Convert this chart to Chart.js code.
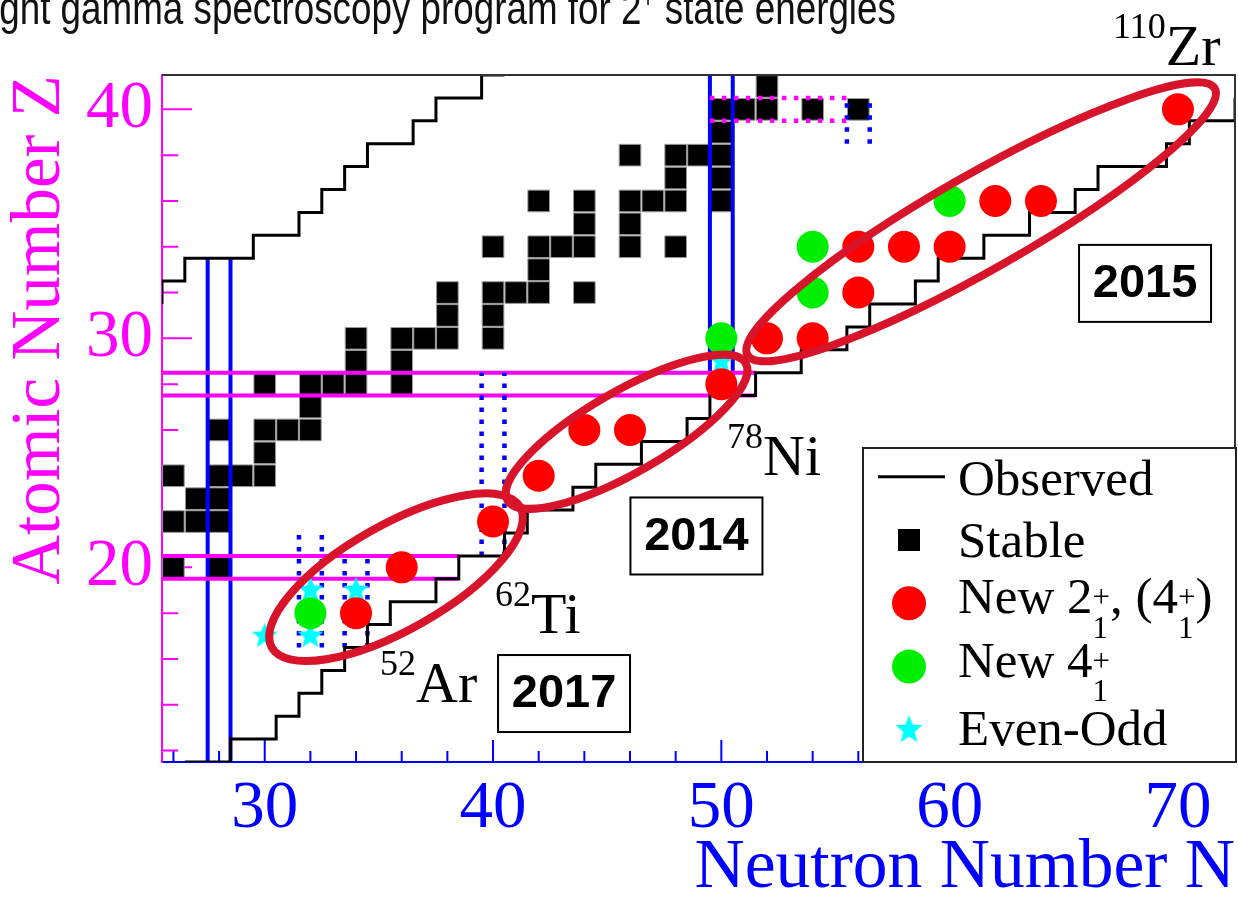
<!DOCTYPE html>
<html>
<head>
<meta charset="utf-8">
<title>Atomic Number Z vs Neutron Number N</title>
<script src="https://cdn.jsdelivr.net/npm/chart.js@4.4.1/dist/chart.umd.min.js"></script>
<style>
  body { margin: 0; background: #fff; overflow: hidden; }
  .chart-box { position: relative; width: 1238px; height: 906px; }
</style>
</head>
<body>
<div class="chart-box"><canvas id="chart" width="1238" height="906"></canvas></div>
<script>
const xRange = [25.5, 72.5]
const yRange = [11.5, 41.5]
const xTickLabels = [30, 40, 50, 60, 70]
const yTickLabels = [20, 30, 40]

// stable nuclei: one row of N values per Z
const stableZ = [20, 22, 23, 24, 25, 26, 27, 28, 29, 30, 31, 32, 33, 34, 35, 36, 37, 38, 39, 40, 41]
const stableN = [
  [26, 28],
  [26, 27, 28],
  [27, 28],
  [26, 28, 29, 30],
  [30],
  [28, 30, 31, 32],
  [32],
  [30, 32, 33, 34, 36],
  [34, 36],
  [34, 36, 37, 38, 40],
  [38, 40],
  [38, 40, 41, 42, 44],
  [42],
  [40, 42, 43, 44, 46, 48],
  [44, 46],
  [42, 44, 46, 47, 48, 50],
  [48, 50],
  [46, 48, 49, 50],
  [50],
  [50, 51, 52, 54, 56],
  [52]
]

// new 2+ (4+) energies
const new2N = [34, 36, 40, 42, 44, 46, 50, 52, 54, 56, 56, 58, 60, 62, 64, 70]
const new2Z = [18, 20, 22, 24, 26, 26, 28, 30, 30, 32, 34, 34, 34, 36, 36, 40]

// new 4+ energies
const new4N = [32, 50, 54, 54, 60]
const new4Z = [18, 30, 32, 34, 36]

// even-odd
const evenOddN = [30, 32, 32, 34, 50]
const evenOddZ = [17, 17, 19, 19, 29]

// limits of observed nuclei, corner points [N, Z]
const observedUpper = [
  [25.5, 31.5], [25.5, 32.5], [26.5, 32.5], [26.5, 33.5], [29.5, 33.5], [29.5, 34.5],
  [31.5, 34.5], [31.5, 35.5], [32.5, 35.5], [32.5, 36.5], [33.5, 36.5], [33.5, 37.5],
  [34.5, 37.5], [34.5, 38.5], [36.5, 38.5], [36.5, 39.5], [37.5, 39.5], [37.5, 40.5],
  [39.5, 40.5], [39.5, 41.5], [40.5, 41.5]
]
const observedLower = [
  [26.5, 11.5], [28.5, 11.5], [28.5, 12.5], [30.5, 12.5], [30.5, 13.5], [31.5, 13.5],
  [31.5, 14.5], [32.5, 14.5], [32.5, 15.5], [33.5, 15.5], [33.5, 16.5], [34.5, 16.5],
  [34.5, 17.5], [35.5, 17.5], [35.5, 18.5], [37.5, 18.5], [37.5, 19.5], [38.5, 19.5],
  [38.5, 20.5], [40.5, 20.5], [40.5, 21.5], [41.5, 21.5], [41.5, 22.5], [43.5, 22.5],
  [43.5, 23.5], [44.5, 23.5], [44.5, 24.5], [46.5, 24.5], [46.5, 25.5], [48.5, 25.5],
  [48.5, 26.5], [49.5, 26.5], [49.5, 27.5], [51.5, 27.5], [51.5, 28.5], [53.5, 28.5],
  [53.5, 29.5], [55.5, 29.5], [55.5, 30.5], [56.5, 30.5], [56.5, 31.5], [58.5, 31.5],
  [58.5, 32.5], [59.5, 32.5], [59.5, 33.5], [61.5, 33.5], [61.5, 34.5], [63.5, 34.5],
  [63.5, 35.5], [65.5, 35.5], [65.5, 36.5], [66.5, 36.5], [66.5, 37.5], [69.5, 37.5],
  [69.5, 38.5], [70.5, 38.5], [70.5, 39.5], [72.5, 39.5], [72.5, 40.5], [73, 40.5]
]

// magic number boxes: vertical [N, Zfrom, Zto], horizontal [Z, Nfrom, Nto]
const magicNSolid = [[27.5, 11.5, 33.5], [28.5, 11.5, 33.5], [49.5, 27.5, 41.5], [50.5, 27.5, 41.5]]
const magicZSolid = [[19.5, 25.5, 38.5], [20.5, 25.5, 38.5], [27.5, 25.5, 51.5], [28.5, 25.5, 51.5]]
const magicNDotted = [
  [31.5, 16.5, 21.5], [32.5, 16.5, 21.5], [33.5, 16.5, 20.5], [34.5, 16.5, 20.5],
  [39.5, 20.5, 28.5], [40.5, 20.5, 28.5], [55.5, 38.5, 40.5], [56.5, 38.5, 40.5]
]
const magicZDotted = [[39.5, 49.5, 55.5], [40.5, 49.5, 55.5]]

// campaign ellipses (centre N, Z; half axes in N units; tilt in degrees)
const campaigns = [
  { n: 35.75, z: 19.57, a: 6.25, b: 2.3, tilt: 29.5 },
  { n: 45.85, z: 25.92, a: 6.02, b: 1.78, tilt: 29.9 },
  { n: 61.38, z: 35.09, a: 11.78, b: 2.08, tilt: 29.7 }
]
const yearBoxes = [
  { text: '2015', n: 68.56, z: 32.4 },
  { text: '2014', n: 48.91, z: 21.37 },
  { text: '2017', n: 43.11, z: 14.49 }
]
const nuclideLabels = [
  { mass: '110', el: 'Zr', n: 67.16, z: 41.94 },
  { mass: '78', el: 'Ni', n: 50.25, z: 24.03 },
  { mass: '62', el: 'Ti', n: 40.09, z: 17.13 },
  { mass: '52', el: 'Ar', n: 35.05, z: 14.12 }
]

const SERIF = '"Liberation Serif", "Times New Roman", serif'
const SANS = '"Liberation Sans", Arial, sans-serif'
const RED = '#ff0000'
const GREEN = '#00ee00'
const CYAN = '#00ffff'
const ELLIPSE = '#d8142a'

const toPoints = (ns, zs) => ns.map((n, i) => ({ x: n, y: zs[i] }))

const makeStar = (size, color) => {
  const c = document.createElement('canvas')
  c.width = c.height = size
  const g = c.getContext('2d')
  g.fillStyle = color
  g.beginPath()
  for (let i = 0; i < 10; i++) {
    const r = i % 2 ? size * 0.22 : size * 0.5
    const ang = -Math.PI / 2 + i * Math.PI / 5
    g.lineTo(size / 2 + r * Math.cos(ang), size / 2 + r * Math.sin(ang))
  }
  g.closePath()
  g.fill()
  return c
}
const star = makeStar(27, CYAN)

const lineSet = (points, color, width, dash) => ({
  data: points.map(p => ({ x: p[0], y: p[1] })),
  showLine: true,
  borderColor: color,
  borderWidth: width,
  borderDash: dash || [],
  borderCapStyle: 'butt',
  pointRadius: 0,
  fill: false,
  tension: 0
})

const stablePoints = []
stableZ.forEach((z, i) => stableN[i].forEach(n => stablePoints.push({ x: n, y: z })))

const DOTS = [4.5, 7.5]
const datasets = [
  { label: 'New 2+', data: toPoints(new2N, new2Z), pointStyle: 'circle', pointRadius: 16, backgroundColor: RED, borderColor: RED, borderWidth: 0 },
  { label: 'New 4+', data: toPoints(new4N, new4Z), pointStyle: 'circle', pointRadius: 16, backgroundColor: GREEN, borderColor: GREEN, borderWidth: 0 },
  { label: 'Even-Odd', data: toPoints(evenOddN, evenOddZ), pointStyle: star, pointRadius: 13 },
  lineSet(observedUpper, '#000', 3),
  lineSet(observedLower, '#000', 3),
  ...magicZDotted.map(l => lineSet([[l[1], l[0]], [l[2], l[0]]], '#ff00ff', 4.5, DOTS)),
  ...magicNDotted.map(l => lineSet([[l[0], l[1]], [l[0], l[2]]], '#0000ff', 4.5, DOTS)),
  ...magicZSolid.map(l => lineSet([[l[1], l[0]], [l[2], l[0]]], '#ff00ff', 4)),
  ...magicNSolid.map(l => lineSet([[l[0], l[1]], [l[0], l[2]]], '#0000ff', 4)),
  { label: 'Stable', data: stablePoints, pointStyle: 'rect', pointRadius: 15.3, backgroundColor: '#000', borderColor: '#999', borderWidth: 1 }
]

// text with ROOT-like stacked ^sup/_sub blocks
const drawScript = (ctx, parts, x, y, size, family) => {
  const small = Math.round(size * 0.6)
  for (const p of parts) {
    if (typeof p === 'string') {
      ctx.font = `${size}px ${family}`
      ctx.fillText(p, x, y)
      x += ctx.measureText(p).width
    } else {
      ctx.font = `${small}px ${family}`
      let adv = 0
      if (p.sup) {
        ctx.fillText(p.sup, x, y - size * (p.sub ? 0.12 : 0.36))
        adv = ctx.measureText(p.sup).width
      }
      if (p.sub) {
        ctx.fillText(p.sub, x, y + size * 0.48)
        adv = Math.max(adv, ctx.measureText(p.sub).width)
      }
      x += adv
    }
  }
  return x
}

const frameTicks = {
  id: 'frameTicks',
  beforeDatasetsDraw(chart) {
    const { ctx, chartArea: a, scales: { x, y } } = chart
    ctx.save()
    ctx.lineWidth = 2
    ctx.strokeStyle = '#0000ff'
    ctx.beginPath()
    for (let n = 26; n <= 72; n += 2) {
      const p = x.getPixelForValue(n)
      ctx.moveTo(p, a.bottom)
      ctx.lineTo(p, a.bottom - (n % 10 === 0 ? 22 : 11))
    }
    ctx.stroke()
    ctx.strokeStyle = '#ff00ff'
    ctx.beginPath()
    for (let z = 12; z <= 40; z += 2) {
      const p = y.getPixelForValue(z)
      ctx.moveTo(a.left, p)
      ctx.lineTo(a.left + (z % 10 === 0 ? 30 : 16), p)
    }
    ctx.stroke()
    ctx.restore()
  },
  afterDatasetsDraw(chart) {
    const { ctx, chartArea: a } = chart
    ctx.save()
    ctx.strokeStyle = '#333'
    ctx.lineWidth = 2
    ctx.beginPath()
    ctx.moveTo(a.left, a.top)
    ctx.lineTo(a.right, a.top)
    ctx.lineTo(a.right, a.bottom)
    ctx.stroke()
    ctx.restore()
  }
}

const annotations = {
  id: 'annotations',
  afterDatasetsDraw(chart) {
    const { ctx, scales: { x, y } } = chart
    const ppu = x.width / (x.max - x.min)
    ctx.save()
    ctx.strokeStyle = ELLIPSE
    ctx.lineWidth = 8
    campaigns.forEach(e => {
      ctx.beginPath()
      ctx.ellipse(x.getPixelForValue(e.n), y.getPixelForValue(e.z), e.a * ppu, e.b * ppu, -e.tilt * Math.PI / 180, 0, Math.PI * 2)
      ctx.stroke()
    })

    ctx.fillStyle = '#000'
    ctx.textBaseline = 'alphabetic'
    nuclideLabels.forEach(l => {
      const px = x.getPixelForValue(l.n)
      const py = y.getPixelForValue(l.z)
      ctx.font = `36px ${SERIF}`
      ctx.fillText(l.mass, px, py - 27)
      const w = ctx.measureText(l.mass).width
      ctx.font = `58px ${SERIF}`
      ctx.fillText(l.el, px + w, py)
    })

    yearBoxes.forEach(b => {
      const cx = x.getPixelForValue(b.n)
      const cy = y.getPixelForValue(b.z)
      const bw = 132, bh = 77
      ctx.fillStyle = '#fff'
      ctx.fillRect(cx - bw / 2, cy - bh / 2, bw, bh)
      ctx.strokeStyle = '#000'
      ctx.lineWidth = 2
      ctx.strokeRect(cx - bw / 2, cy - bh / 2, bw, bh)
      ctx.fillStyle = '#000'
      ctx.font = `bold 47px ${SANS}`
      ctx.textAlign = 'center'
      ctx.textBaseline = 'middle'
      ctx.fillText(b.text, cx, cy + 1)
      ctx.textAlign = 'left'
      ctx.textBaseline = 'alphabetic'
    })
    ctx.restore()
  }
}

const rootLegend = {
  id: 'rootLegend',
  afterDraw(chart) {
    const { ctx, chartArea: a } = chart
    const w = 373, h = 314
    const left = a.right + 1 - w
    const top = a.bottom - h
    ctx.save()
    ctx.fillStyle = '#fff'
    ctx.fillRect(left, top, w, h)
    ctx.strokeStyle = '#222'
    ctx.lineWidth = 2
    ctx.strokeRect(left, top, w, h)

    const mx = left + 46
    const tx = left + 95
    const rowY = i => top + 28.7 + i * 63.3
    const baseY = [46.5, 108.7, 165.3, 228.7, 297]

    ctx.strokeStyle = '#000'
    ctx.lineWidth = 3
    ctx.beginPath()
    ctx.moveTo(left + 15, rowY(0))
    ctx.lineTo(left + 82, rowY(0))
    ctx.stroke()

    ctx.fillStyle = '#000'
    ctx.fillRect(mx - 11, rowY(1) - 11, 22, 22)

    ctx.fillStyle = RED
    ctx.beginPath()
    ctx.arc(mx, rowY(2), 17, 0, Math.PI * 2)
    ctx.fill()

    ctx.fillStyle = GREEN
    ctx.beginPath()
    ctx.arc(mx, rowY(3), 17, 0, Math.PI * 2)
    ctx.fill()

    ctx.drawImage(star, mx - 14, rowY(4) - 15, 28, 30)

    ctx.fillStyle = '#000'
    ctx.textBaseline = 'alphabetic'
    drawScript(ctx, ['Observed'], tx, top + baseY[0], 51, SERIF)
    drawScript(ctx, ['Stable'], tx, top + baseY[1], 51, SERIF)
    drawScript(ctx, ['New 2', { sup: '+', sub: '1' }, ', (4', { sup: '+', sub: '1' }, ')'], tx, top + baseY[2], 51, SERIF)
    drawScript(ctx, ['New 4', { sup: '+', sub: '1' }], tx, top + baseY[3], 51, SERIF)
    drawScript(ctx, ['Even-Odd'], tx, top + baseY[4], 51, SERIF)
    ctx.restore()
  }
}

// slide heading, cut off at the top edge, narrow sans
const slideTitle = {
  id: 'slideTitle',
  afterDraw(chart) {
    const { ctx } = chart
    ctx.save()
    ctx.fillStyle = '#111'
    ctx.textBaseline = 'alphabetic'
    ctx.scale(0.8, 1)
    drawScript(ctx, ['ght gamma spectroscopy program for 2', { sup: '+' }, ' state energies'], -1, 24, 46, SANS)
    ctx.restore()
  }
}

const chart = new Chart(document.getElementById('chart'), {
  type: 'scatter',
  data: { datasets },
  options: {
    responsive: false,
    devicePixelRatio: 1,
    animation: false,
    events: [],
    layout: { autoPadding: false, padding: { top: 75, right: 3, left: 0, bottom: 0 } },
    plugins: {
      legend: { display: false },
      tooltip: { enabled: false }
    },
    scales: {
      x: {
        type: 'linear',
        min: xRange[0],
        max: xRange[1],
        afterBuildTicks: s => { s.ticks = xTickLabels.map(v => ({ value: v })) },
        afterFit: s => { s.height = 144 },
        grid: { display: false, drawTicks: false },
        border: { display: true, color: '#0000ff', width: 2 },
        ticks: { color: '#0000ff', font: { family: SERIF, size: 67 }, padding: 7, maxRotation: 0, autoSkip: false },
        title: {
          display: true, text: 'Neutron Number N', color: '#0000ff', align: 'end',
          font: { family: SERIF, size: 69.5, lineHeight: 1 }, padding: { top: 0, bottom: 3 }
        }
      },
      y: {
        type: 'linear',
        min: yRange[0],
        max: yRange[1],
        afterBuildTicks: s => { s.ticks = yTickLabels.map(v => ({ value: v })) },
        afterFit: s => { s.width = 162 },
        grid: { display: false, drawTicks: false },
        border: { display: true, color: '#ff00ff', width: 2 },
        ticks: { color: '#ff00ff', font: { family: SERIF, size: 67 }, padding: 9, autoSkip: false },
        title: {
          display: true, text: 'Atomic Number Z', color: '#ff00ff', align: 'end',
          font: { family: SERIF, size: 69, lineHeight: 1 }, padding: { top: 6, bottom: 0 }
        }
      }
    }
  },
  plugins: [frameTicks, annotations, rootLegend, slideTitle]
})
</script>
</body>
</html>
